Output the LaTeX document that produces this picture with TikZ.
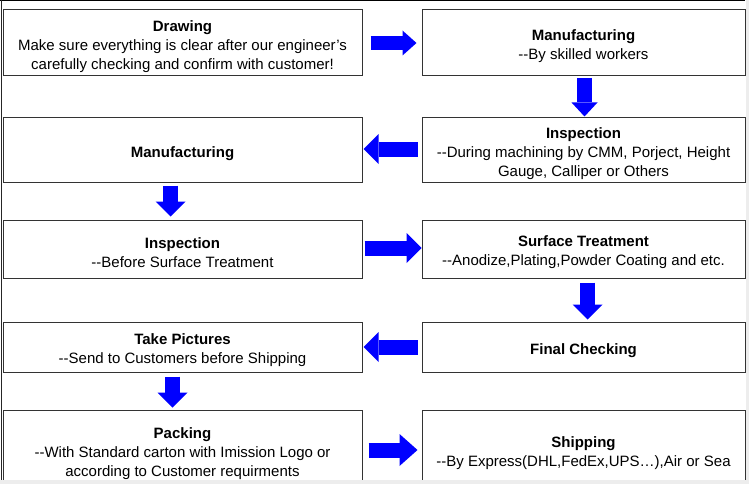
\documentclass[tikz,border=0pt]{standalone}
\usepackage{fontspec}
\setmainfont{Liberation Sans}
\usetikzlibrary{arrows.meta,calc}
\tikzset{
  box/.style={draw=black!80, line width=1pt, inner sep=0pt},
  txt/.style={font=\fontsize{15}{19}\selectfont, align=center, inner sep=0pt, yshift=-3.5pt},
  lbox/.style={box, minimum width=359pt},
  rbox/.style={box, minimum width=323pt},
  barrow/.style={draw=blue, line width=15pt,
    -{Triangle[width=30pt,length=15pt,line width=0pt]}},
}
\begin{document}
\begin{tikzpicture}[x=1pt,y=-1pt]
\useasboundingbox (0,0) rectangle (749,484);
\clip (0,0) rectangle (749,484);
\fill[white] (0,0) rectangle (749,484);
% boxes
\node[lbox, minimum height=66pt, label={[txt]center:{\textbf{Drawing}\\Make sure everything is clear after our engineer's\\carefully checking and confirm with customer!}}] (b1) at (182.5,43) {};
\node[rbox, minimum height=66pt, label={[txt]center:{\textbf{Manufacturing}\\-{}-By skilled workers}}] (b2) at (583.5,43) {};
\node[rbox, minimum height=64pt, label={[txt]center:{\textbf{Inspection}\\-{}-During machining by CMM, Porject, Height\\Gauge, Calliper or Others}}] (b3) at (583.5,150) {};
\node[lbox, minimum height=64pt, label={[txt]center:{\textbf{Manufacturing}}}] (b4) at (182.5,150) {};
\node[lbox, minimum height=58pt, label={[txt]center:{\textbf{Inspection}\\-{}-Before Surface Treatment}}] (b5) at (182.5,249) {};
\node[rbox, minimum height=58pt, label={[txt]center:{\textbf{Surface Treatment}\\-{}-Anodize,Plating,Powder Coating and etc.}}] (b6) at (583.5,249) {};
\node[rbox, minimum height=50pt, label={[txt]center:{\textbf{Final Checking}}}] (b7) at (583.5,347) {};
\node[lbox, minimum height=50pt, label={[txt]center:{\textbf{Take Pictures}\\-{}-Send to Customers before Shipping}}] (b8) at (182.5,347) {};
\node[lbox, minimum height=80pt, label={[txt]center:{\textbf{Packing}\\-{}-With Standard carton with Imission Logo or\\according to Customer requirments}}] (b9) at (182.5,450) {};
\node[rbox, minimum height=80pt, label={[txt]center:{\textbf{Shipping}\\-{}-By Express(DHL,FedEx,UPS…),Air or Sea}}] (b10) at (583.5,450) {};
% arrows
\draw[barrow, line width=14pt, -{Triangle[width=25pt,length=14pt,line width=0pt]}]
  ($(b1.east)+(8,0)$) -- ($(b2.west)+(-5,0)$);
\draw[barrow, -{Triangle[width=26pt,length=14pt,line width=0pt]}]
  ($(b2.south)+(1,2)$) -- ($(b3.north)+(1,-1)$);
\draw[barrow] ($(b3.west)+(-4,-1)$) -- ($(b4.east)+(1,-1)$);
\draw[barrow] ($(b4.south)+(-12,3)$) -- ($(b5.north)+(-12,-3)$);
\draw[barrow] ($(b5.east)+(2,-1)$) -- ($(b6.west)+(0,-1)$);
\draw[barrow] ($(b6.south)+(4,4)$) -- ($(b7.north)+(4,-2)$);
\draw[barrow] ($(b7.west)+(-4,0)$) -- ($(b8.east)+(1,0)$);
\draw[barrow] ($(b8.south)+(-10,4)$) -- ($(b9.north)+(-10,-2)$);
\draw[barrow, -{Triangle[width=32pt,length=18pt,line width=0pt]}]
  ($(b9.east)+(6,0)$) -- ($(b10.west)+(-4,0)$);
% frame
\fill[black!7] (746,0) rectangle (749,484);
\fill[black!7] (0,480) rectangle (749,484);
\draw[black, line width=1.2pt] (0,0.6) -- (745,0.6);
\draw[black!85, line width=1pt] (1.5,0) -- (1.5,480);
\end{tikzpicture}
\end{document}
